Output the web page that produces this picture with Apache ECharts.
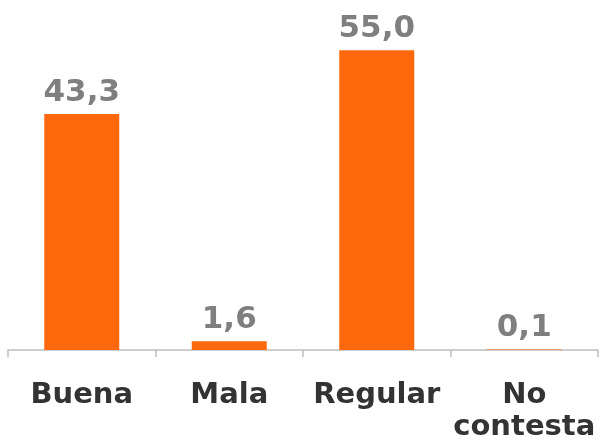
<!DOCTYPE html>
<html>
<head>
<meta charset="utf-8">
<script src="https://cdn.jsdelivr.net/npm/echarts@6/dist/echarts.min.js"></script>
<style>
    html, body { margin: 0; padding: 0; background: #fff; }
    #chart { width: 606px; height: 448px; }
</style>
</head>
<body>
<div id="chart"></div>
<script>
// 数据
const categories = ['Buena', 'Mala', 'Regular', 'No\ncontesta'];
const values = [43.3, 1.6, 55.0, 0.1];

(function () {
    let myChart = echarts.init(document.getElementById('chart'));
    let option = {
        animation: false,
        grid: {
            left: 8,
            right: 8,
            top: 23,
            bottom: 98,
            containLabel: false
        },
        xAxis: {
            type: 'category',
            data: categories,
            axisLine: {
                lineStyle: { color: '#bfbfbf', width: 1.5 }
            },
            axisTick: {
                show: true,
                length: 7,
                lineStyle: { color: '#bfbfbf', width: 1.5 }
            },
            axisLabel: {
                color: '#333333',
                fontFamily: 'DejaVu Sans',
                fontWeight: 'bold',
                fontSize: 29,
                lineHeight: 32,
                margin: 29,
                interval: 0
            }
        },
        yAxis: {
            type: 'value',
            min: 0,
            max: 60,
            show: false,
            splitLine: { show: false }
        },
        series: [
            {
                type: 'bar',
                data: values,
                barWidth: 75,
                itemStyle: { color: '#ff680c' },
                label: {
                    show: true,
                    position: 'top',
                    distance: 6,
                    color: '#7f7f7f',
                    fontFamily: 'DejaVu Sans',
                    fontWeight: 'bold',
                    fontSize: 31,
                    formatter: function (p) {
                        // 逗号作小数点
                        return p.value.toFixed(1).replace('.', ',');
                    }
                }
            }
        ]
    };
    myChart.setOption(option);
})();
</script>
</body>
</html>
